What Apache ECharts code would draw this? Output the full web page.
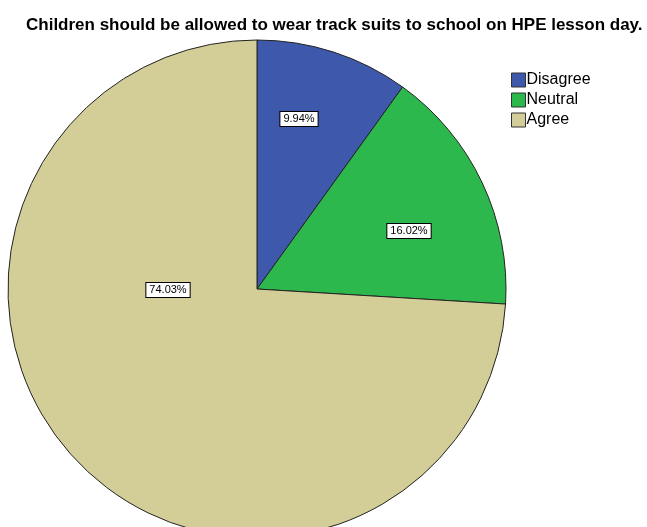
<!DOCTYPE html>
<html>
<head>
<meta charset="utf-8">
<script src="https://cdn.jsdelivr.net/npm/echarts@6/dist/echarts.min.js"></script>
<style>
  html, body { margin: 0; padding: 0; background: #fff; }
  #chart { width: 647px; height: 527px; }
</style>
</head>
<body>
<div id="chart"></div>
<script>
var categories = ['Disagree', 'Neutral', 'Agree'];
var percents = [9.94, 16.02, 74.03];
var colors = ['#3e58ac', '#2db84d', '#d3ce97'];

// label spots relative to the pie centre (SPSS places them its own way)
var labelOffsets = [[42, -170], [152, -58], [-89, 1]];
var cx = 257, cy = 289;

var myChart = echarts.init(document.getElementById('chart'));

var pieData = categories.map(function (name, i) {
    return { name: name, value: percents[i], itemStyle: { color: colors[i] } };
});

var option = {
    animation: false,
    title: {
        text: 'Children should be allowed to wear track suits to school on HPE lesson day.',
        left: 21,
        top: 12,
        textStyle: { fontFamily: 'Arial, Liberation Sans', fontSize: 17, fontWeight: 'bold', color: '#000' }
    },
    legend: {
        orient: 'vertical',
        left: 506,
        top: 67,
        itemWidth: 14,
        itemHeight: 14,
        itemGap: 4,
        icon: 'rect',
        selectedMode: false,
        itemStyle: { borderColor: '#333', borderWidth: 1 },
        textStyle: { fontFamily: 'Arial, Liberation Sans', fontSize: 16, color: '#000', padding: [0, 0, 0, -4] },
        data: categories
    },
    series: [{
        type: 'pie',
        center: [cx, cy],
        radius: 249,
        startAngle: 90,
        clockwise: true,
        silent: true,
        itemStyle: { borderColor: '#222', borderWidth: 1 },
        label: {
            show: true,
            position: 'inside',
            formatter: function (p) { return p.value.toFixed(2) + '%'; },
            fontFamily: 'Arial, Liberation Sans',
            fontSize: 11,
            color: '#000',
            backgroundColor: '#fff',
            borderColor: '#000',
            borderWidth: 1,
            padding: [2, 3, 1, 3]
        },
        labelLayout: function (params) {
            var o = labelOffsets[params.dataIndex];
            return { x: cx + o[0], y: cy + o[1], align: 'center', verticalAlign: 'middle' };
        },
        data: pieData
    }]
};

myChart.setOption(option);
window.addEventListener('resize', function () {
    myChart.resize();
});
</script>
</body>
</html>
